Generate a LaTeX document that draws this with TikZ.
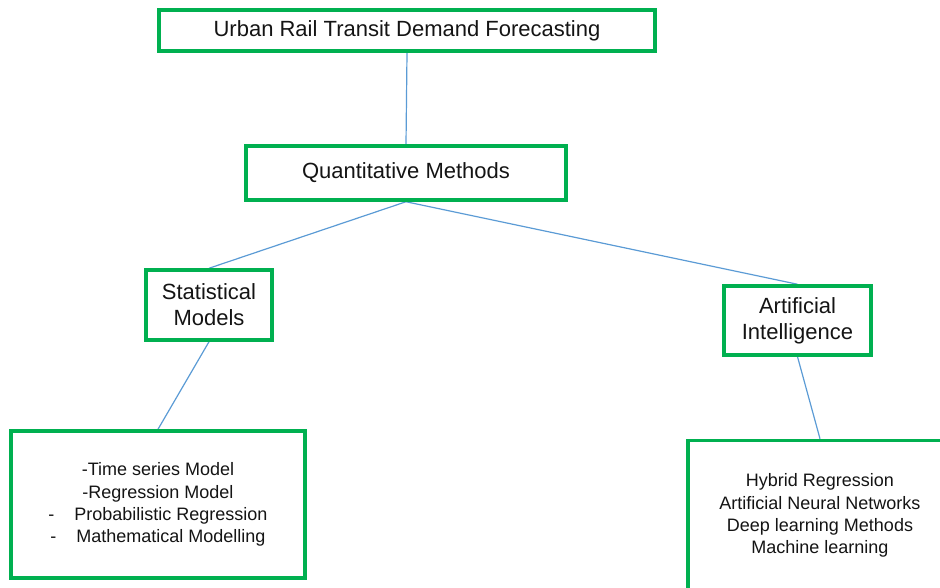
\documentclass[tikz,border=0pt]{standalone}
\usepackage{fontspec}
\setmainfont{Liberation Sans}
\usepackage{xcolor}
\usetikzlibrary{backgrounds}
\definecolor{boxgreen}{RGB}{0,176,80}
\definecolor{linkblue}{RGB}{91,155,213}
\definecolor{textgray}{RGB}{20,20,20}
\tikzset{
    box/.style={draw=boxgreen, line width=3.5pt, align=center, inner sep=0pt,
        text=textgray, font=\fontsize{22}{26}\selectfont},
    listbox/.style={box, font=\fontsize{18}{22.3}\selectfont},
    link/.style={draw=linkblue, line width=1.2pt}
}
\newcommand{\dashgap}{-\hspace{20pt}}

\begin{document}
\begin{tikzpicture}[x=1pt,y=-1pt]
            \useasboundingbox (0,0) rectangle (940,588);
            % tree of boxes
            \node[box, minimum width=496pt, minimum height=41pt] (demand) at (407,30.5) {Urban Rail Transit Demand Forecasting};
            \node[box, minimum width=320pt, minimum height=54pt] (quant) at (406,173) {Quantitative Methods};
            \node[box, minimum width=126pt, minimum height=70pt] (stat) at (209,305) {Statistical\\Models};
            \node[box, minimum width=147pt, minimum height=69pt] (ai) at (797.5,320.5) {Artificial\\Intelligence};
            \node[listbox, minimum width=294pt, minimum height=147pt] (statlist) at (158,504.5)
                {-Time series Model\\-Regression Model\\\dashgap Probabilistic Regression\\\dashgap Mathematical Modelling};
            \node[listbox, minimum width=264pt, minimum height=150pt] (ailist) at (820,515.5)
                {Hybrid Regression\\Artificial Neural Networks\\Deep learning Methods\\Machine learning};

            % connectors behind the boxes
            \begin{scope}[on background layer]
            \draw[link] (demand.south) -- (quant.north);
            \draw[link] (quant.south) -- (stat.north);
            \draw[link] (quant.south) -- (ai.north);
            \draw[link] (stat.south) -- (statlist.north);
            \draw[link] (ai.south) -- (ailist.north);
            \end{scope}
\end{tikzpicture}
\end{document}
